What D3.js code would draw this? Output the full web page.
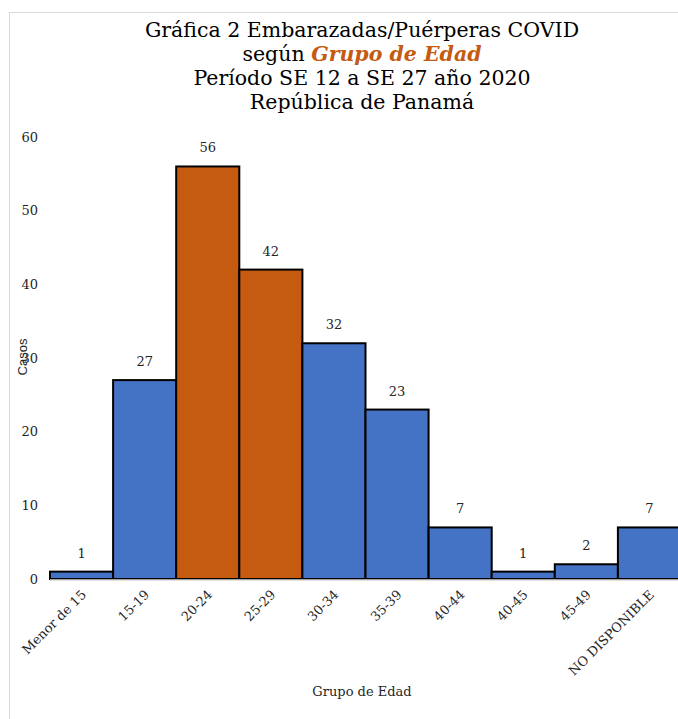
<!DOCTYPE html>
<html>
<head>
<meta charset="utf-8">
<script src="https://cdn.jsdelivr.net/npm/d3@7"></script>
<style>
  body { margin: 0; background: #fff; }
  svg { display: block; }
</style>
</head>
<body>
<div id="chart"></div>
<script>
// ==========================================================
// DATA
let categories = [ 'Menor de 15', '15-19', '20-24', '25-29', '30-34',
                   '35-39', '40-44', '40-45', '45-49', 'NO DISPONIBLE' ];
let casos      = [ 1, 27, 56, 42, 32, 23, 7, 1, 2, 7 ];
let destacados = [ '20-24', '25-29' ];      // bars shown in orange
let y_ticks    = [ 0, 10, 20, 30, 40, 50, 60 ];

// ==========================================================
// SETUP
let width = 678, height = 719;
let blue = '#4472C4', orange = '#C55A11';
let serif = '"DejaVu Serif", serif';

let svg = d3.select('#chart')
            .append('svg')
            .attr('width', width)
            .attr('height', height);

// chart frame (right/bottom fall outside the picture)
svg.append('rect')
   .attr('x', 9.5).attr('y', 12.5)
   .attr('width', 700).attr('height', 720)
   .attr('fill', 'none')
   .attr('stroke', '#d9d9d9');

let x_scale = d3.scaleBand()
                .domain( categories )
                .range( [ 50, 681 ] )
                .padding( 0 );

let y_scale = d3.scaleLinear()
                .domain( [ 0, 60 ] )
                .range( [ 579, 137 ] );

// ==========================================================
// TITLE
let title = svg.append('text')
               .attr('text-anchor', 'middle')
               .attr('font-family', serif)
               .attr('font-size', 20.5)
               .attr('fill', '#000');
let lines = [ 'Gráfica 2 Embarazadas/Puérperas COVID', null,
              'Período SE 12 a SE 27 año 2020', 'República de Panamá' ];
lines.forEach(function(l, i) {
    let t = title.append('tspan').attr('x', 362).attr('y', 37 + i * 24);
    if (l === null) {
        t.text('según ');
        title.append('tspan')
             .attr('font-weight', 'bold')
             .attr('font-style', 'italic')
             .attr('fill', orange)
             .text('Grupo de Edad');
    } else {
        t.text(l);
    }
});

// ==========================================================
// AXES
let y_axis = d3.axisLeft(y_scale)
               .tickValues( y_ticks )
               .tickSize(0)
               .tickPadding(0);

svg.append('g')
   .attr('transform', 'translate(38, 0)')
   .call(y_axis)
   .call(g => g.select('.domain').remove())
   .selectAll('text')
   .attr('font-family', serif)
   .attr('font-size', 13)
   .attr('fill', '#262626');

// bars
svg.selectAll('rect.bar')
   .data( casos )
   .enter()
   .append('rect')
   .attr('class', 'bar')
   .attr('x', function(d, i) { return x_scale(categories[i]); })
   .attr('y', function(d) { return y_scale(d); })
   .attr('width', x_scale.bandwidth())
   .attr('height', function(d) { return y_scale(0) - y_scale(d); })
   .attr('fill', function(d, i) { return destacados.includes(categories[i]) ? orange : blue; })
   .attr('stroke', '#000')
   .attr('stroke-width', 2);

// baseline
svg.append('line')
   .attr('x1', 50).attr('x2', width)
   .attr('y1', y_scale(0) + 1).attr('y2', y_scale(0) + 1)
   .attr('stroke', '#d9d9d9')
   .attr('stroke-width', 1.5);

// bar labels
svg.selectAll('text.lbl')
   .data( casos )
   .enter()
   .append('text')
   .attr('class', 'lbl')
   .attr('x', function(d, i) { return x_scale(categories[i]) + x_scale.bandwidth() / 2; })
   .attr('y', function(d) { return y_scale(d) - 14; })
   .attr('text-anchor', 'middle')
   .attr('font-family', serif)
   .attr('font-size', 13)
   .attr('fill', '#262626')
   .text(function(d) { return d; });

// x tick labels, rotated
let x_axis = d3.axisBottom(x_scale).tickSize(0).tickPadding(0);
svg.append('g')
   .attr('transform', 'translate(0, ' + (y_scale(0) + 10) + ')')
   .call(x_axis)
   .call(g => g.select('.domain').remove())
   .selectAll('text')
   .attr('font-family', serif)
   .attr('font-size', 13)
   .attr('fill', '#262626')
   .attr('text-anchor', 'end')
   .attr('dy', '0.7em')
   .attr('transform', 'translate(-1, 0) rotate(-45)');

// axis titles
svg.append('text')
   .attr('x', 362).attr('y', 696)
   .attr('text-anchor', 'middle')
   .attr('font-family', serif)
   .attr('font-size', 13)
   .attr('fill', '#262626')
   .text('Grupo de Edad');

svg.append('text')
   .attr('transform', 'translate(27, 357) rotate(-90)')
   .attr('text-anchor', 'middle')
   .attr('font-family', '"Liberation Sans", Arial, sans-serif')
   .attr('font-size', 13)
   .attr('fill', '#262626')
   .text('Casos');
</script>
</body>
</html>
